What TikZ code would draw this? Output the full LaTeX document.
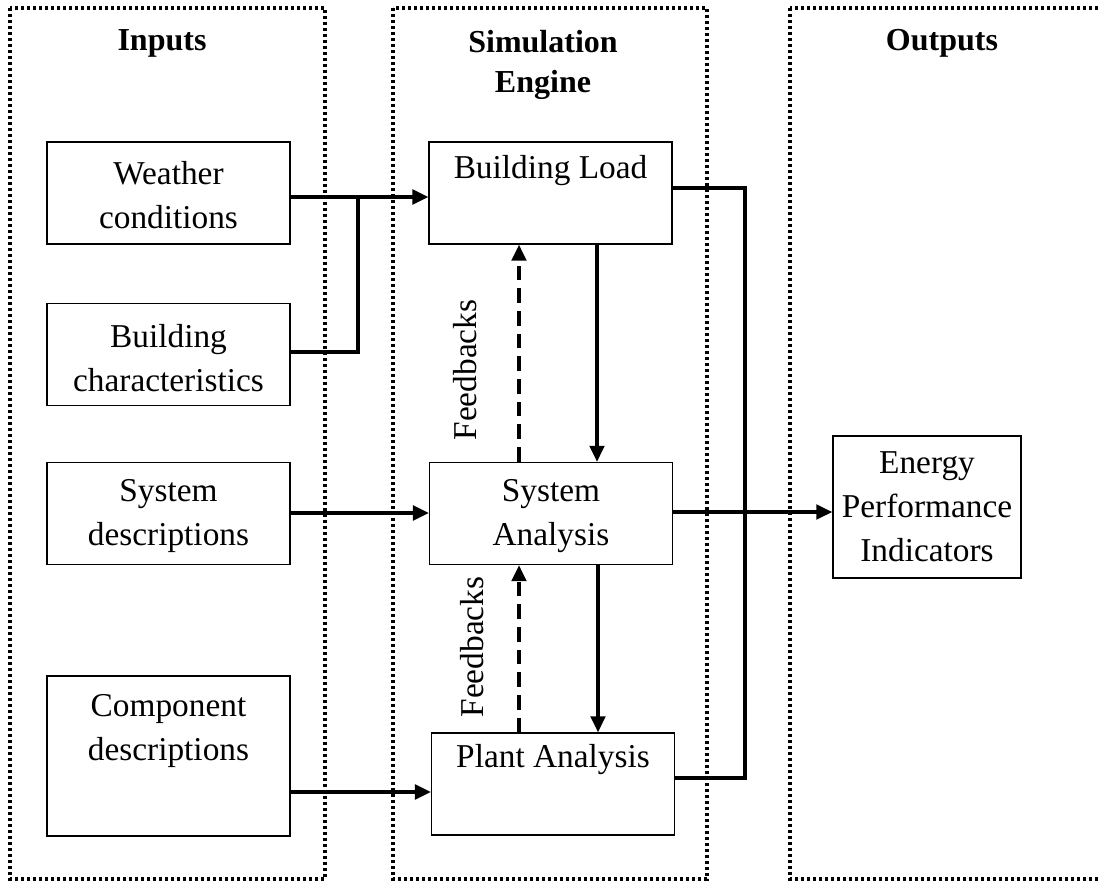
\documentclass[tikz,border=0pt]{standalone}
\usepackage{fontspec}
\setmainfont{Liberation Serif}
\usetikzlibrary{arrows.meta}
\begin{document}
\begin{tikzpicture}[x=0.75pt,y=-0.75pt,
  font=\fontsize{25}{33}\selectfont,
  frame/.style={line width=2.3pt,dash pattern=on 2.4pt off 2.1pt},
  box/.style={draw,line width=1.1pt,inner sep=0pt,minimum width=182pt,minimum height=76.5pt},
  txt/.style={align=center,inner sep=0pt},
  head/.style={align=center,inner sep=0pt,font=\fontsize{24}{30}\selectfont\bfseries},
  conn/.style={draw,line width=2.4pt},
  flowarrow/.style={draw,line width=2.4pt,-{Triangle[length=12pt,width=11pt]}},
  fbarrow/.style={draw,line width=2.4pt,-{Triangle[length=12pt,width=11pt]},dash pattern=on 11pt off 6pt},
  fbtext/.style={inner sep=0pt,rotate=90}]
\useasboundingbox (0,0) rectangle (1099,882);

% dotted frames of the three columns
\draw[frame] (10,8) rectangle (325,879);
\draw[frame] (393,8) rectangle (707,879);
\draw[frame] (790,8) rectangle (1120,879);

% column headings
\node[head] (hin) at (162,43) {Inputs};
\node[head] (hsim) at (543,65) {Simulation\\Engine};
\node[head] (hout) at (942,43) {Outputs};

% input boxes
\node[box] (weather) at (168.5,193) {};
\node[txt] (tweather) at (168.5,195) {Weather\\conditions};
\node[box] (bchar) at (168.5,354.5) {};
\node[txt] (tbchar) at (168.5,358) {Building\\characteristics};
\node[box] (sysdesc) at (168.5,513.5) {};
\node[txt] (tsysdesc) at (168.5,516) {System\\descriptions};
\node[box,minimum height=120pt] (compdesc) at (168.5,756) {};
\node[txt] (tcompdesc) at (168.5,731) {Component\\descriptions};

% simulation engine boxes
\node[box] (bload) at (550.5,193) {};
\node[txt] (tbload) at (550.5,171) {Building Load};
\node[box] (sysan) at (551,513.5) {};
\node[txt] (tsysan) at (551,516) {System\\Analysis};
\node[box] (plant) at (553,784) {};
\node[txt] (tplant) at (553,760) {Plant Analysis};

% output box
\node[box,minimum width=141pt,minimum height=106.5pt] (epi) at (927,507) {};
\node[txt] (tepi) at (927,507) {Energy\\Performance\\Indicators};

% helper coordinates for wire routing
\coordinate (jw) at (358,197);
\coordinate (jb) at (358,352);
\coordinate (ys) at (0,513);
\coordinate (yc) at (0,792);
\coordinate (xdown) at (597,0);
\coordinate (xfb) at (519,0);
\coordinate (xdown2) at (598,0);
\coordinate (xc) at (745,0);
\coordinate (yb) at (0,188);
\coordinate (yp) at (0,778);
\coordinate (yo) at (0,512);

% inputs into the engine
\path[flowarrow] (weather.east |- jw) -- (bload.west |- jw);
\path[conn] (bchar.east |- jb) -- (jb) -- (jw);
\path[flowarrow] (sysdesc.east |- ys) -- (sysan.west |- ys);
\path[flowarrow] (compdesc.east |- yc) -- (plant.west |- yc);

% forward passes and feedbacks
\path[flowarrow] (bload.south -| xdown) -- (sysan.north -| xdown);
\path[fbarrow] (sysan.north -| xfb) -- (bload.south -| xfb);
\path[flowarrow] (sysan.south -| xdown2) -- (plant.north -| xdown2);
\path[fbarrow] (plant.north -| xfb) -- (sysan.south -| xfb);
\node[fbtext] (fb1) at (465,370) {Feedbacks};
\node[fbtext] (fb2) at (472,647) {Feedbacks};

% collected results to the indicators
\path[conn] (bload.east |- yb) -| (xc |- yp) -- (plant.east |- yp);
\path[flowarrow] (sysan.east |- yo) -- (epi.west |- yo);
\end{tikzpicture}
\end{document}
